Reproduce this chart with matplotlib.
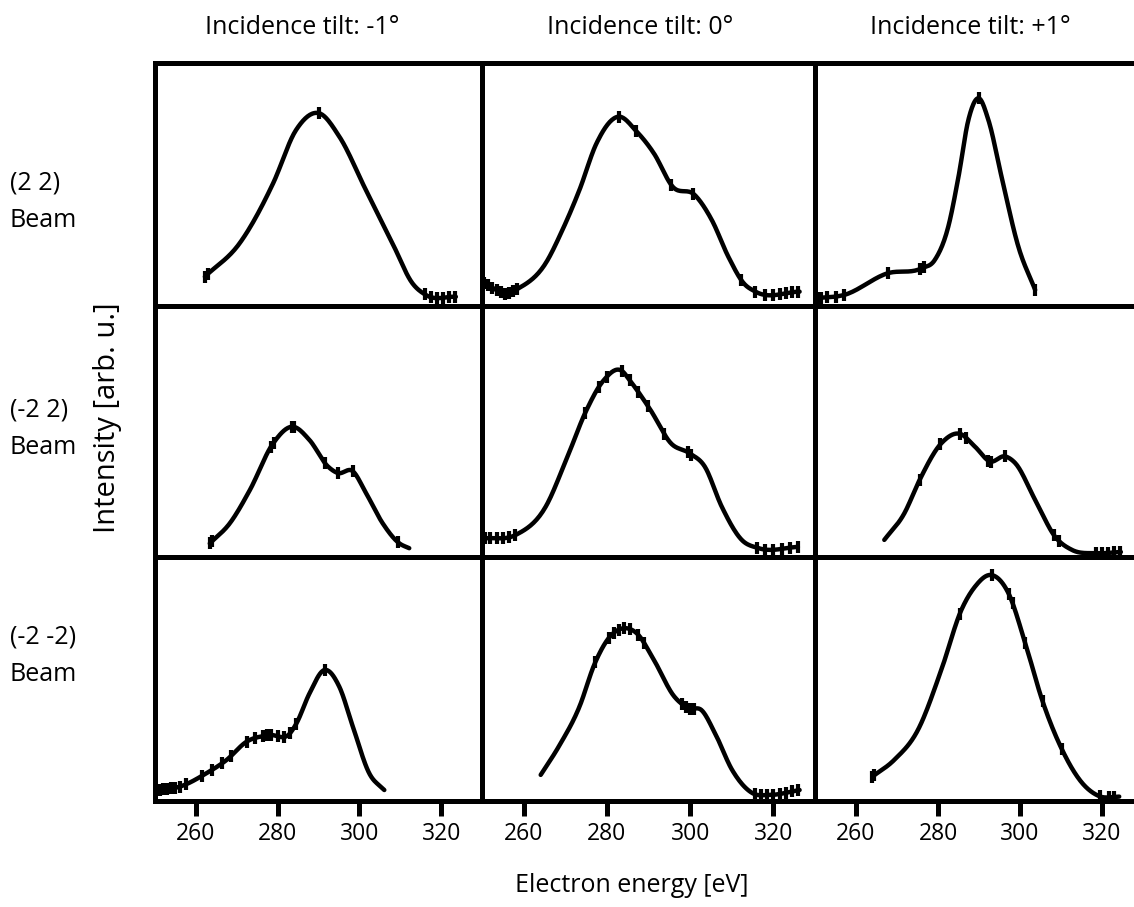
import numpy as np
import matplotlib
matplotlib.use("Agg")
import matplotlib.pyplot as plt

plt.rcParams['font.family'] = ['Open Sans', 'DejaVu Sans']

# ---------------- Data ----------------
col_titles = ["Incidence tilt: -1°", "Incidence tilt: 0°", "Incidence tilt: +1°"]
row_labels = ["(2 2)\nBeam", "(-2 2)\nBeam", "(-2 -2)\nBeam"]
xticks = [260, 280, 300, 320]

# (2 2) beam
e_22_m1 = [262.2, 270.7, 278.9, 284.5, 290.2, 295.1, 301.6, 308.1, 313.0, 316.3, 323.6]
i_22_m1 = [0.119, 0.256, 0.503, 0.722, 0.791, 0.695, 0.475, 0.256, 0.091, 0.043, 0.036]
m_22_m1 = [262.2, 263.0, 290.2, 316.0, 317.5, 319.0, 320.5, 322.0, 323.5]

e_22_0 = [250.7, 256.3, 258.4, 265.3, 269.3, 273.4, 277.5, 282.8, 287.2, 291.3, 295.8, 301.1, 305.2, 309.2, 312.9, 315.7, 326.3]
i_22_0 = [0.091, 0.050, 0.067, 0.174, 0.310, 0.475, 0.667, 0.777, 0.715, 0.626, 0.489, 0.455, 0.352, 0.200, 0.091, 0.057, 0.057]
m_22_0 = [250.5, 251.5, 252.5, 253.5, 254.5, 255.5, 256.5, 257.5, 258.4, 282.8, 287.0, 295.5, 300.8,
          312.3, 315.7, 318.0, 320.0, 321.5, 323.0, 324.5, 326.0]

e_22_p1 = [250.0, 257.0, 267.8, 276.0, 279.2, 282.5, 285.0, 287.4, 289.9, 292.3, 295.5, 299.6, 303.7]
i_22_p1 = [0.030, 0.043, 0.133, 0.153, 0.187, 0.324, 0.530, 0.763, 0.853, 0.763, 0.530, 0.242, 0.064]
m_22_p1 = [250.5, 251.5, 253.0, 255.0, 257.0, 267.8, 275.5, 276.5, 290.0, 303.7]

# (-2 2) beam
e_m22_m1 = [263.4, 268.3, 273.2, 278.9, 283.7, 287.8, 292.3, 294.7, 298.4, 301.6, 305.7, 309.8, 312.2]
i_m22_m1 = [0.054, 0.134, 0.266, 0.452, 0.518, 0.465, 0.360, 0.334, 0.341, 0.255, 0.134, 0.054, 0.035]
m_m22_m1 = [263.4, 263.9, 278.3, 279.0, 283.5, 284.0, 291.5, 294.7, 298.4, 309.5]

e_m22_0 = [250.7, 258.0, 265.3, 270.2, 275.1, 279.1, 283.6, 285.6, 290.5, 295.4, 299.8, 303.5, 307.6, 312.4, 316.5, 325.9]
i_m22_0 = [0.074, 0.087, 0.200, 0.385, 0.584, 0.700, 0.740, 0.700, 0.584, 0.452, 0.413, 0.360, 0.200, 0.068, 0.035, 0.040]
m_m22_0 = [250.7, 252.0, 253.5, 255.0, 256.5, 258.0, 274.8, 278.0, 280.0, 283.6, 285.5, 287.5, 289.8,
           293.8, 299.5, 300.3, 316.0, 318.0, 320.0, 322.0, 324.0, 325.8]

e_m22_p1 = [266.9, 271.8, 275.5, 280.8, 285.3, 289.0, 292.7, 296.4, 298.8, 303.7, 308.6, 312.7, 318.5, 324.6]
i_m22_p1 = [0.068, 0.174, 0.306, 0.452, 0.490, 0.439, 0.380, 0.400, 0.374, 0.227, 0.080, 0.028, 0.015, 0.020]
m_m22_p1 = [275.5, 280.6, 285.3, 286.8, 292.3, 293.0, 296.4, 308.3, 309.5, 318.5, 320.0, 321.5, 323.0, 324.5]

# (-2 -2) beam
e_m2m2_m1 = [250.4, 256.1, 262.6, 267.5, 272.4, 278.0, 283.0, 284.6, 287.8, 291.5, 295.1, 298.4, 302.4, 306.1]
i_m2m2_m1 = [0.045, 0.059, 0.114, 0.168, 0.243, 0.270, 0.277, 0.318, 0.441, 0.537, 0.468, 0.305, 0.114, 0.045]
m_m2m2_m1 = [250.4, 251.2, 252.0, 253.0, 254.0, 255.0, 256.0, 257.5, 261.5, 264.0, 266.5, 268.5, 272.4,
             274.5, 276.5, 277.5, 278.5, 280.0, 281.5, 283.0, 284.5, 291.5]

e_m2m2_0 = [264.1, 268.5, 273.4, 277.1, 280.7, 284.0, 287.2, 291.3, 296.2, 299.8, 302.7, 306.0, 310.1, 315.0, 319.1, 326.3]
i_m2m2_0 = [0.107, 0.225, 0.386, 0.564, 0.673, 0.708, 0.687, 0.578, 0.428, 0.380, 0.373, 0.277, 0.127, 0.032, 0.025, 0.045]
m_m2m2_0 = [277.2, 280.5, 281.7, 282.8, 284.0, 285.5, 287.5, 289.0, 298.0, 299.0, 300.0, 301.0,
            315.5, 317.0, 318.5, 320.0, 321.5, 323.0, 324.5, 326.0]

e_m2m2_p1 = [264.0, 269.3, 275.1, 280.8, 285.7, 289.0, 293.1, 297.2, 301.3, 305.4, 310.3, 315.2, 319.3, 324.2]
i_m2m2_p1 = [0.100, 0.168, 0.291, 0.537, 0.783, 0.878, 0.926, 0.851, 0.646, 0.414, 0.209, 0.073, 0.020, 0.018]
m_m2m2_p1 = [264.0, 264.5, 285.3, 293.1, 297.3, 298.2, 301.3, 305.5, 310.2, 319.5, 321.7, 323.0]

panels = [
    [(e_22_m1, i_22_m1, m_22_m1), (e_22_0, i_22_0, m_22_0), (e_22_p1, i_22_p1, m_22_p1)],
    [(e_m22_m1, i_m22_m1, m_m22_m1), (e_m22_0, i_m22_0, m_m22_0), (e_m22_p1, i_m22_p1, m_m22_p1)],
    [(e_m2m2_m1, i_m2m2_m1, m_m2m2_m1), (e_m2m2_0, i_m2m2_0, m_m2m2_0), (e_m2m2_p1, i_m2m2_p1, m_m2m2_p1)],
]


def smooth(x, y, n=20):
    # cubic Hermite path through the read points (drawing only)
    x = np.asarray(x, float)
    y = np.asarray(y, float)
    h = np.diff(x)
    d = np.diff(y) / h
    m = np.empty_like(y)
    m[0], m[-1] = d[0], d[-1]
    m[1:-1] = (h[1:] * d[:-1] + h[:-1] * d[1:]) / (h[:-1] + h[1:])
    xs, ys = [], []
    t = np.linspace(0, 1, n, endpoint=False)
    for k in range(len(x) - 1):
        h00 = 2 * t**3 - 3 * t**2 + 1
        h10 = t**3 - 2 * t**2 + t
        h01 = -2 * t**3 + 3 * t**2
        h11 = t**3 - t**2
        xs.append(x[k] + t * h[k])
        ys.append(h00 * y[k] + h10 * h[k] * m[k] + h01 * y[k + 1] + h11 * h[k] * m[k + 1])
    xs.append([x[-1]])
    ys.append([y[-1]])
    return np.concatenate(xs), np.concatenate(ys)


# ---------------- Layout (pixel based) ----------------
W, H = 1134, 907
fig = plt.figure(figsize=(W / 100, H / 100), dpi=100)

col_left = [155, 482, 815]
col_w = [327, 333, 328]
row_top = [62.5, 305.5, 557]
row_bot = [305.5, 557, 801]

for r in range(3):
    for c in range(3):
        e, inten, marks = panels[r][c]
        ax = fig.add_axes([col_left[c] / W, 1 - row_bot[r] / H, col_w[c] / W, (row_bot[r] - row_top[r]) / H])
        sx, sy = smooth(e, inten)
        ax.plot(sx, sy, color='black', lw=3.2, solid_capstyle='round', solid_joinstyle='round')
        ax.plot(marks, np.interp(marks, sx, sy), ls='none', marker='|', ms=9, mew=3.0, color='black')
        ax.set_xlim(250, 330)
        ax.set_ylim(0, 1)
        ax.set_yticks([])
        for s in ax.spines.values():
            s.set_linewidth(3.6)
        if r == 2:
            ax.set_xticks(xticks)
            ax.tick_params(axis='x', direction='out', length=11, width=3.6, labelsize=16.5, pad=4)
        else:
            ax.set_xticks([])

# ---------------- Text ----------------
title_x = [302, 640, 970]
for c in range(3):
    fig.text(title_x[c] / W, 1 - 27 / H, col_titles[c], ha='center', va='center', fontsize=18)

row_y = [201.5, 428.5, 656]
for r in range(3):
    fig.text(10 / W, 1 - row_y[r] / H, row_labels[r], ha='left', va='center', fontsize=18, linespacing=1.65)

fig.text(108 / W, 1 - 418 / H, "Intensity [arb. u.]", rotation=90, ha='center', va='center', fontsize=21)
fig.text(632 / W, 1 - 885 / H, "Electron energy [eV]", ha='center', va='center', fontsize=18)

fig.savefig("out.png", dpi=100)
